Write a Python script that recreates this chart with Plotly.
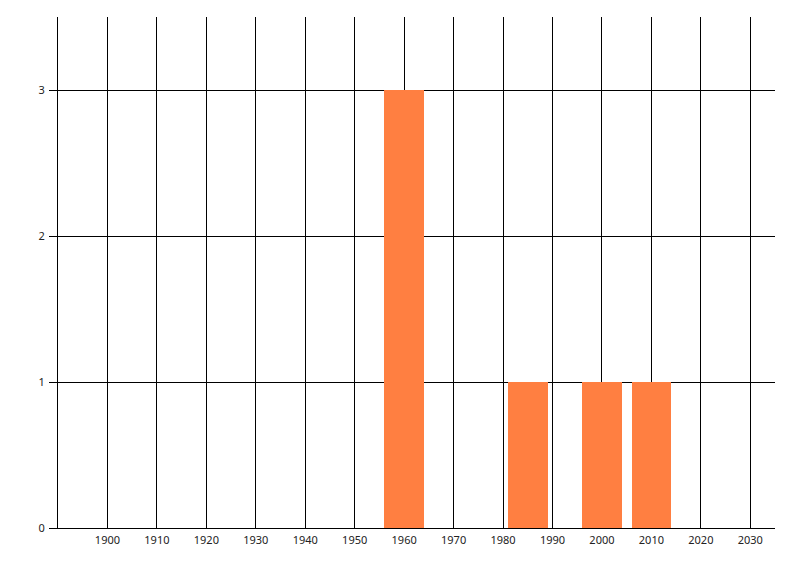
import plotly.graph_objects as go

years = [1960, 1985, 2000, 2010]
counts = [3, 1, 1, 1]
x_ticks = [1900, 1910, 1920, 1930, 1940, 1950, 1960, 1970, 1980, 1990, 2000, 2010, 2020, 2030]
y_ticks = [0, 1, 2, 3]

fig = go.Figure()
fig.add_trace(go.Bar(x=years, y=counts, width=8, marker=dict(color="#FF7F41", line=dict(width=0))))

fig.update_layout(
    width=800, height=576,
    margin=dict(l=50, r=33, t=9, b=56),
    paper_bgcolor="white", plot_bgcolor="white",
    showlegend=False,
    font=dict(family="Noto Sans", size=11, color="#222222"),
    bargap=0,
)
fig.update_xaxes(
    range=[1890, 2035], tickmode="array", tickvals=x_ticks,
    ticktext=[str(v) for v in x_ticks],
    showgrid=True, gridcolor="black", gridwidth=1,
    showline=True, linecolor="black", linewidth=1,
    ticks="", zeroline=False, fixedrange=True,
    ticklabelstandoff=2,
)
fig.update_yaxes(
    range=[0, 3.5], tickmode="array", tickvals=y_ticks,
    showgrid=True, gridcolor="black", gridwidth=1,
    showline=True, linecolor="black", linewidth=1,
    ticks="outside", ticklen=8, tickcolor="black",
    zeroline=False, fixedrange=True,
    ticklabelstandoff=2,
)
fig.write_html("out.html")
